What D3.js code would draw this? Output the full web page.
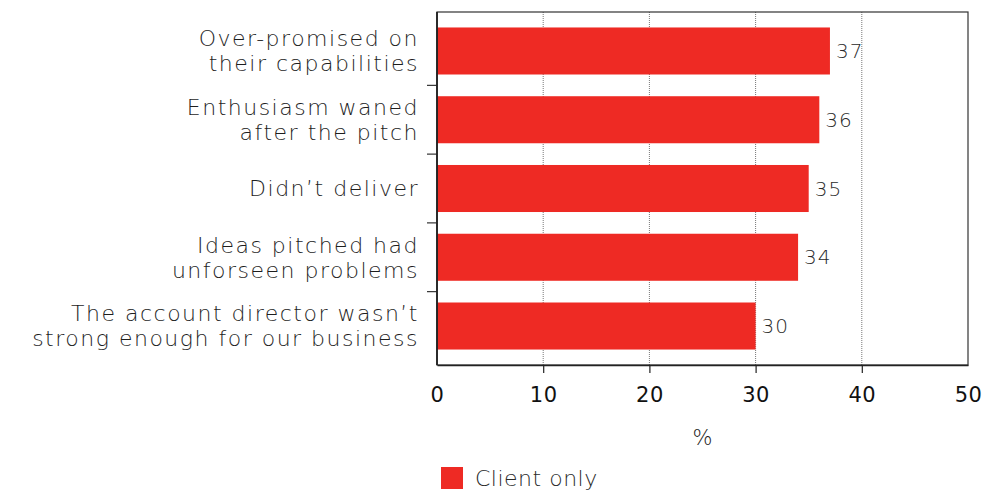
<!DOCTYPE html>
<html>
<head>
<meta charset="utf-8">
<script src="https://cdn.jsdelivr.net/npm/d3@7"></script>
<style>
  body { margin: 0; background: #fff; }
  svg text { font-family: "DejaVu Sans", sans-serif; font-weight: 200; }
</style>
</head>
<body>
<div id="chart"></div>
<script>
// categories top to bottom, each label split in lines
const categories = [
  ["Over-promised on", "their capabilities"],
  ["Enthusiasm waned", "after the pitch"],
  ["Didn\u2019t deliver"],
  ["Ideas pitched had", "unforseen problems"],
  ["The account director wasn\u2019t", "strong enough for our business"]
];
const values = [37, 36, 35, 34, 30];
const xTicks = [0, 10, 20, 30, 40, 50];
const seriesName = "Client only";

const W = 985, H = 493;
const margin = { top: 12, right: 17, bottom: 128, left: 437 };
const w = W - margin.left - margin.right;
const h = H - margin.top - margin.bottom;
const red = "#ee2a24";

const svg = d3.select("#chart").append("svg")
  .attr("width", W).attr("height", H);
const g = svg.append("g").attr("transform", `translate(${margin.left},${margin.top})`);

const x = d3.scaleLinear().domain([0, 50]).range([0, w]);
const y = d3.scaleBand().domain(d3.range(categories.length)).range([0, h])
  .paddingInner(0.316).paddingOuter(0.225);

// dotted grid lines
g.selectAll("line.grid")
  .data(xTicks.slice(1, -1))
  .enter().append("line")
  .attr("class", "grid")
  .attr("x1", d => x(d)).attr("x2", d => x(d))
  .attr("y1", 0).attr("y2", h)
  .attr("stroke", "#777").attr("stroke-width", 1)
  .attr("stroke-dasharray", "1,1");

// bars
g.selectAll("rect.bar")
  .data(values)
  .enter().append("rect")
  .attr("class", "bar")
  .attr("x", 0)
  .attr("y", (d, i) => y(i))
  .attr("width", d => x(d))
  .attr("height", y.bandwidth())
  .attr("fill", red);

// value labels
g.selectAll("text.val")
  .data(values)
  .enter().append("text")
  .attr("class", "val")
  .attr("x", d => x(d) + 6)
  .attr("y", (d, i) => y(i) + y.bandwidth() / 2)
  .attr("dy", "0.36em")
  .attr("font-size", 20)
  .attr("letter-spacing", 1)
  .attr("fill", "#2a2a2a")
  .text(d => d);

// frame
g.append("rect")
  .attr("x", 0).attr("y", 0).attr("width", w).attr("height", h)
  .attr("fill", "none").attr("stroke", "#333").attr("stroke-width", 1.2);

// x axis
const xAxis = g.append("g")
  .attr("transform", `translate(0,${h})`)
  .call(d3.axisBottom(x).tickValues(xTicks).tickSize(0).tickPadding(22));
xAxis.select(".domain").attr("stroke", "#222").attr("stroke-width", 1.5);
xAxis.selectAll(".tick")
  .filter(d => d > 0 && d < 50)
  .append("line").attr("y2", 8).attr("stroke", "#222").attr("stroke-width", 1.2);
xAxis.selectAll("text").attr("font-size", 21).attr("fill", "#111")
  .attr("letter-spacing", 0.5)
  .style("font-family", "DejaVu Sans, sans-serif").style("font-weight", 400);

// y separators at band boundaries
const step = y.step();
const bounds = d3.range(1, categories.length).map(i => y(i) - y.paddingInner() * step / 2);
g.selectAll("line.sep")
  .data(bounds)
  .enter().append("line")
  .attr("x1", -10).attr("x2", 0)
  .attr("y1", d => d).attr("y2", d => d)
  .attr("stroke", "#333").attr("stroke-width", 1.2);
g.append("line")
  .attr("x1", 0).attr("x2", 0).attr("y1", 0).attr("y2", h)
  .attr("stroke", "#222").attr("stroke-width", 1.8);

// category labels
const lineH = 25;
const labels = g.selectAll("text.cat")
  .data(categories)
  .enter().append("text")
  .attr("class", "cat")
  .attr("text-anchor", "end")
  .attr("font-size", 22)
  .attr("letter-spacing", 1.5)
  .attr("fill", "#1e1e1e")
  .attr("transform", (d, i) => `translate(-18,${y(i) + y.bandwidth() / 2})`);
labels.selectAll("tspan")
  .data(d => d.map((t, k) => ({ t, k, n: d.length })))
  .enter().append("tspan")
  .attr("x", 0)
  .attr("y", d => (d.k - (d.n - 1) / 2) * lineH)
  .attr("dy", "0.36em")
  .text(d => d.t);

// axis title
g.append("text")
  .attr("x", x(25)).attr("y", h + 72)
  .attr("dy", "0.36em")
  .attr("text-anchor", "middle")
  .attr("font-size", 21).attr("fill", "#1e1e1e")
  .text("%");

// legend
const leg = svg.append("g").attr("transform", `translate(441,467)`);
leg.append("rect").attr("width", 22).attr("height", 22).attr("fill", red);
leg.append("text").attr("x", 34).attr("y", 11).attr("dy", "0.36em")
  .attr("font-size", 22).attr("letter-spacing", 0.5).attr("fill", "#2a2a2a").text(seriesName);
</script>
</body>
</html>
